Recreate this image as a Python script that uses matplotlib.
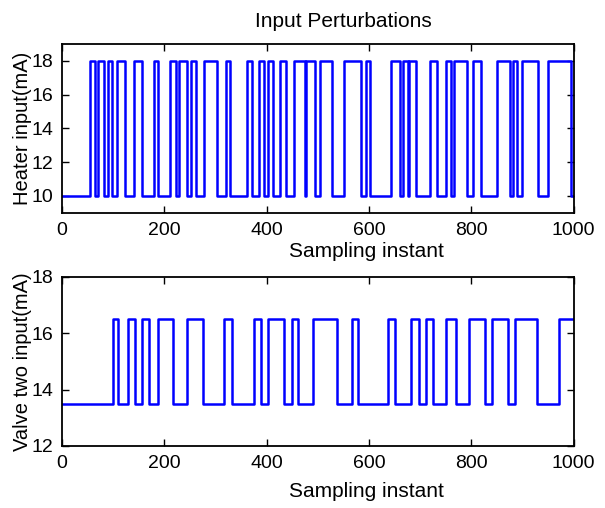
"""
Input perturbations: heater and valve step signals
Usage: python plot.py
"""

import matplotlib
matplotlib.use("Agg")
import matplotlib.pyplot as plt

# Heater input switching instants and levels (mA)
heater_t = [0, 55, 64, 71, 82, 89, 98, 107, 123, 140, 156,
            180, 187, 212, 222, 229, 244, 253, 262, 278, 304,
            321, 328, 361, 371, 385, 394, 403, 412, 427, 438,
            454, 475, 478, 495, 504, 527, 552, 585, 594, 602,
            643, 660, 667, 676, 679, 692, 720, 734, 751, 760,
            766, 792, 803, 819, 850, 876, 882, 890, 899, 931,
            950, 995, 1000]
heater_mA = [10, 18, 10, 18, 10, 18, 10, 18, 10, 18, 10,
             18, 10, 18, 10, 18, 10, 18, 10, 18, 10,
             18, 10, 18, 10, 18, 10, 18, 10, 18, 10,
             18, 10, 18, 10, 18, 10, 18, 10, 18, 10,
             18, 10, 18, 10, 18, 10, 18, 10, 18, 10,
             18, 10, 18, 10, 18, 10, 18, 10, 18, 10,
             18, 10, 10]

# Valve two input switching instants and levels (mA)
valve_t = [0, 100, 110, 130, 143, 157, 170, 188, 217, 245, 275,
           317, 332, 375, 390, 403, 434, 449, 462, 491, 537,
           566, 579, 637, 651, 682, 697, 711, 726, 751, 770,
           796, 827, 841, 871, 886, 929, 972, 1000]
valve_mA = [13.5, 16.5, 13.5, 16.5, 13.5, 16.5, 13.5, 16.5, 13.5, 16.5, 13.5,
            16.5, 13.5, 16.5, 13.5, 16.5, 13.5, 16.5, 13.5, 16.5, 13.5,
            16.5, 13.5, 16.5, 13.5, 16.5, 13.5, 16.5, 13.5, 16.5, 13.5,
            16.5, 13.5, 16.5, 13.5, 16.5, 13.5, 16.5, 16.5]

x_ticks = [0, 200, 400, 600, 800, 1000]
heater_yticks = [10, 12, 14, 16, 18]
valve_yticks = [12, 14, 16, 18]

plt.rcParams['font.family'] = ['Liberation Sans', 'DejaVu Sans']
plt.rcParams['font.size'] = 14.5


def style_axes(ax):
    for s in ax.spines.values():
        s.set_linewidth(1.3)
    ax.tick_params(direction='in', top=True, right=True, length=5,
                   width=1.0, labelsize=14, pad=6.5)


fig = plt.figure(figsize=(6.05, 5.08), dpi=100)
W, H = 605.0, 508.0
ax1 = fig.add_axes([62 / W, 1 - 212.6 / H, 511.5 / W, 168.6 / H])
ax2 = fig.add_axes([62 / W, 1 - 446 / H, 511.5 / W, 169.3 / H])

ax1.step(heater_t, heater_mA, where='post', color='#0000ff', lw=1.8)
ax1.set_xlim(0, 1000)
ax1.set_ylim(9, 19)
ax1.set_xticks(x_ticks)
ax1.set_yticks(heater_yticks)
ax1.set_xlabel('Sampling instant', labelpad=2.5, fontsize=15, x=0.596)
ax1.set_ylabel('Heater input(mA)', labelpad=-1)
ax1.set_title('Input Perturbations', x=0.551, pad=12, fontsize=15)
style_axes(ax1)

ax2.step(valve_t, valve_mA, where='post', color='#0000ff', lw=1.8)
ax2.set_xlim(0, 1000)
ax2.set_ylim(12, 18)
ax2.set_xticks(x_ticks)
ax2.set_yticks(valve_yticks)
ax2.set_xlabel('Sampling instant', labelpad=7, fontsize=15, x=0.596)
ax2.set_ylabel('Valve two input(mA)', labelpad=-1)
style_axes(ax2)

fig.savefig('out.png', dpi=100)
